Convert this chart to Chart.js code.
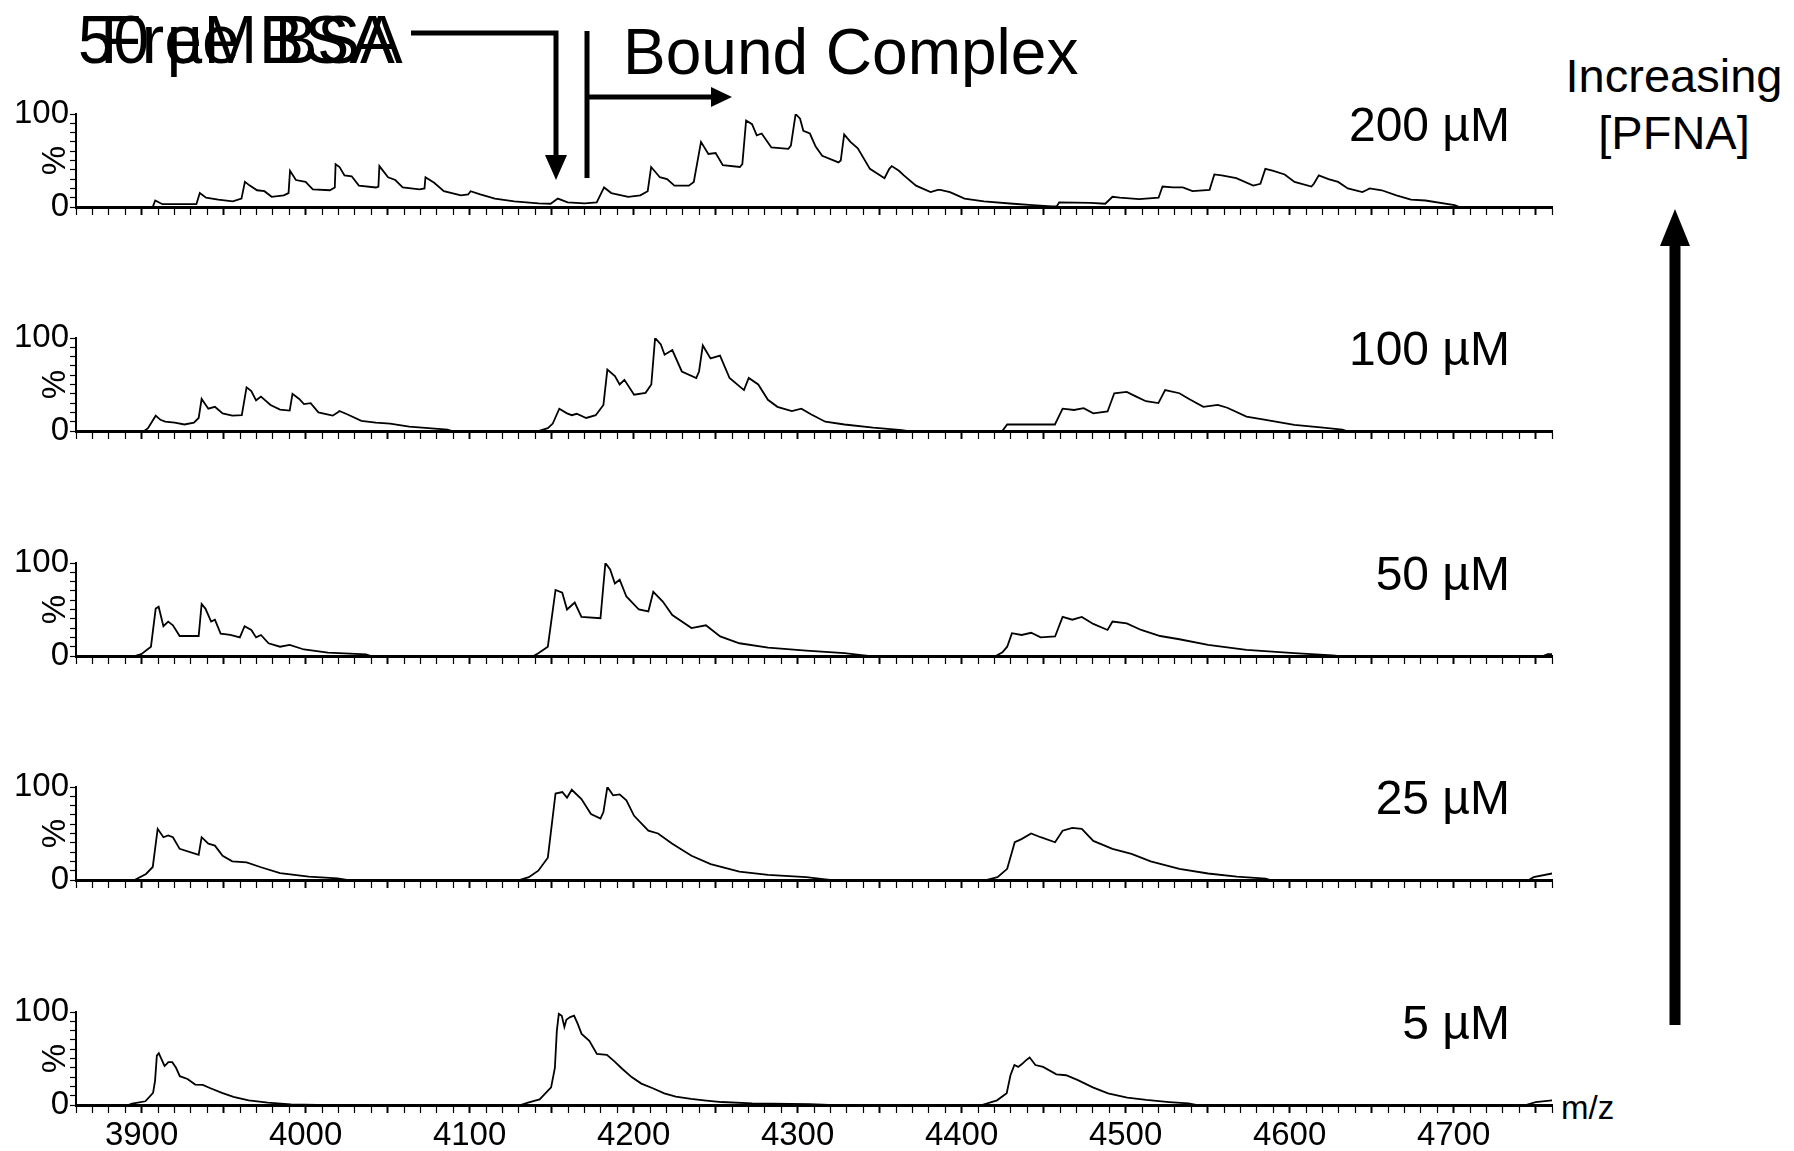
<!DOCTYPE html>
<html>
<head>
<meta charset="utf-8">
<script src="https://cdn.jsdelivr.net/npm/chart.js@4.4.1/dist/chart.umd.min.js"></script>
<style>
  body { margin: 0; background: #fff; width: 1794px; height: 1151px; position: relative; overflow: hidden;
         font-family: "Liberation Sans", Arial, sans-serif; color: #000; }
  canvas { position: absolute; left: 0; }
  .t { position: absolute; line-height: 1; white-space: nowrap; }
</style>
</head>
<body>

<div class="t" style="left:78px;top:5px;font-size:68px;transform:scaleX(0.94);transform-origin:0 0">50 µM BSA</div>
<div class="t" style="left:100px;top:5px;font-size:68px">Free BSA</div>
<div class="t" style="left:623px;top:20px;font-size:64px">Bound Complex</div>
<div class="t" style="left:1524px;top:52px;width:300px;text-align:center;font-size:47px">Increasing</div>
<div class="t" style="left:1524px;top:109px;width:300px;text-align:center;font-size:47px">[PFNA]</div>
<div class="t" style="left:1561px;top:1091px;font-size:33px">m/z</div>

<svg width="1794" height="1151" style="position:absolute;left:0;top:0">
  <g stroke="#000" stroke-width="5" fill="none">
    <polyline points="411,33 556,33 556,160"/>
    <line x1="587" y1="31" x2="587" y2="178"/>
    <line x1="587" y1="97" x2="713" y2="97"/>
    <line x1="1675" y1="1025" x2="1675" y2="240" stroke-width="11"/>
  </g>
  <g fill="#000">
    <polygon points="545,155 567,155 556,180"/>
    <polygon points="711,87 711,107 732,97"/>
    <polygon points="1660,246 1690,246 1675,209"/>
  </g>
</svg>

<script>
// [m/z, % intensity]
const spec200 = [[3860,0],[3906.8,0],[3908.3,7],[3912.7,3],[3933.4,3],[3935.5,15],[3939.3,10],[3946.7,8],[3955.6,6],[3960.9,9],[3963.0,27],[3966.0,23],[3970.4,18],[3974.9,17],[3979.3,11],[3986.7,12.5],[3989.6,15],[3990.5,39],[3994.1,29],[4000.0,27],[4004.4,19],[4014.8,18],[4017.8,21],[4018.3,46],[4020.7,43],[4023.7,34],[4028.1,33],[4032.5,23],[4042.9,21],[4044.4,22],[4045.0,44],[4050.3,32],[4054.7,29],[4059.2,21],[4069.5,19],[4072.5,20],[4073.1,32],[4078.4,26],[4084.3,17],[4094.7,12.5],[4099.1,13.5],[4100.6,17],[4106.5,13.5],[4115.4,9],[4127.2,6],[4142.0,4],[4149.4,3.5],[4153.8,9],[4159.8,5],[4170.1,4],[4177.5,5],[4182.0,21],[4186.4,15],[4196.7,11],[4204.1,12.5],[4208.6,17],[4210.7,43],[4216.0,32],[4220.4,30],[4224.9,23],[4233.7,23],[4236.7,27],[4241.1,70],[4245.6,57],[4250.0,58],[4254.4,45],[4264.8,43],[4266.3,46],[4268.6,93],[4272.2,89],[4275.1,77],[4278.1,79],[4284.0,64],[4294.4,62.5],[4295.9,66],[4298.8,100],[4301.5,95],[4303.5,82],[4307.5,79],[4311.0,65],[4315.0,55],[4324.9,48],[4326.3,50],[4328.4,78],[4332.2,70],[4336.7,63],[4344.1,41],[4353.0,31],[4355.9,41],[4357.4,44],[4361.8,39],[4364.8,34],[4372.2,23],[4381.1,16],[4385.5,18.5],[4387.0,18.5],[4392.9,16],[4401.8,9],[4413.6,6],[4431.4,3.5],[4443.2,2],[4455.0,0.7],[4458.0,0.7],[4459.5,5],[4478.7,4.5],[4487.6,3.5],[4492.0,11],[4496.4,10],[4508.3,8.5],[4520.1,10],[4522.5,22],[4529.0,21],[4534.9,21],[4540.8,17],[4551.2,18.5],[4554.1,35],[4558.6,34],[4567.5,31],[4577.8,23],[4582.2,25],[4585.2,41],[4589.6,39],[4597.0,35],[4603.0,27],[4613.3,22],[4614.8,25],[4617.8,34],[4623.7,30],[4629.6,27],[4635.5,20],[4644.4,16],[4647.3,18.5],[4648.8,20],[4656.2,18],[4665.1,12.5],[4674.0,8],[4682.8,7],[4700.6,2],[4703.6,0],[4760,0]];

const spec100 = [[3860,0],[3901.6,0],[3903.9,3],[3908.6,16.5],[3911.5,12],[3914.4,10],[3920.2,9],[3926.1,7],[3931.9,9],[3934.8,14],[3936.6,34.5],[3940.7,24],[3944.7,26],[3949.4,19],[3955.3,16.5],[3961.1,17],[3964.0,47],[3966.9,43],[3969.8,33],[3972.8,37],[3978.6,28],[3984.4,23],[3990.3,22],[3992.0,40],[3996.1,34.5],[3999.0,29],[4003.1,30],[4007.8,20],[4016.5,16.5],[4019.5,20],[4020.6,21.5],[4025.3,18],[4034.0,11],[4042.8,9],[4051.5,8],[4063.2,4.7],[4074.9,3],[4086.5,1.5],[4089.4,0],[4141.9,0],[4147.7,3],[4150.7,8],[4154.7,24],[4159.4,19],[4162.3,17],[4165.3,18.5],[4171.1,14],[4176.9,17],[4181.6,28],[4184.0,66],[4188.6,59],[4191.5,50],[4194.4,55],[4200.3,39],[4207.3,41],[4210.8,50],[4213.1,100],[4216.6,93],[4218.9,82],[4223.6,87],[4229.4,64],[4238.2,57],[4239.9,64],[4242.2,92],[4246.9,78],[4252.7,81],[4258.5,57],[4267.3,44],[4270.2,57],[4276.0,50],[4281.9,33.5],[4287.7,26],[4296.5,21.5],[4302.3,24],[4308.1,18],[4316.9,10],[4328.6,7],[4346.1,3.6],[4363.6,1],[4366.5,0],[4424.8,0],[4427.8,7],[4456.9,7],[4461.6,24],[4468.6,22.6],[4474.4,24.5],[4480.3,19],[4489.0,21],[4493.1,40.6],[4500.7,42],[4506.5,37],[4512.4,32],[4520.0,30],[4524.1,44],[4532.8,40.6],[4538.7,34.5],[4547.4,26],[4556.2,28],[4562.0,25],[4573.7,15.5],[4585.4,12],[4602.9,6.5],[4620.4,3.6],[4632.1,1.4],[4635.0,0],[4760,0]];

const spec50 = [[3860,0],[3895.7,0],[3899.8,2],[3905.7,10],[3908.6,51],[3910.4,53],[3913.3,32],[3916.2,37],[3919.1,33],[3923.2,21.5],[3934.8,21.5],[3936.6,56],[3938.9,51],[3942.4,37],[3944.7,39],[3948.2,24],[3954.1,22.6],[3959.9,20],[3962.8,32],[3966.9,28],[3969.8,20],[3972.8,22.6],[3977.4,13.7],[3984.4,10],[3990.3,12],[3999.0,7],[4013.6,3.6],[4036.9,1.8],[4039.8,0],[4139.0,0],[4141.9,3],[4147.7,10],[4152.4,71],[4156.5,68],[4159.4,50],[4164.1,57.5],[4168.2,42],[4179.8,40.6],[4182.8,100],[4185.7,93],[4188.6,78],[4191.5,82],[4195.6,64],[4203.2,50],[4209.0,48],[4212.0,69],[4217.8,58.6],[4223.6,44],[4235.3,30],[4244.1,33],[4252.8,21],[4264.5,13.7],[4282.0,9],[4305.3,5.8],[4328.6,3],[4340.3,0.7],[4343.2,0],[4420.8,0],[4424.9,4],[4427.8,10],[4430.7,24.5],[4436.6,22.6],[4442.4,25],[4448.2,20],[4457.0,21],[4461.6,42],[4467.5,39],[4473.3,42],[4480.3,34.5],[4489.0,28],[4492.0,37],[4500.7,35],[4509.5,28],[4521.1,21.5],[4532.8,18],[4550.3,12],[4573.7,6.5],[4602.9,3],[4626.2,0.7],[4629.1,0],[4754.5,0],[4757.4,2],[4760,2]];

const spec25 = [[3860,0],[3895.7,0],[3902.7,6.5],[3906.8,14],[3909.8,55],[3913.3,46],[3916.2,48],[3919.1,46],[3923.2,33.5],[3934.8,27],[3936.6,46],[3940.7,39],[3944.7,37],[3949.4,26],[3955.3,20],[3964.0,19],[3972.8,13.7],[3984.4,7.5],[4001.9,3.6],[4019.4,1.8],[4025.2,0],[4130.3,0],[4136.1,3],[4141.9,10],[4147.7,24],[4152.4,93],[4156.5,94.6],[4159.4,88.5],[4162.3,97],[4168.2,87],[4174.0,71],[4179.8,66],[4181.6,73],[4184.0,100],[4187.5,91],[4191.5,92],[4195.6,85.6],[4200.3,69],[4209.0,53],[4214.9,50],[4223.6,39],[4235.3,26],[4247.0,17],[4264.5,9],[4282.0,5.4],[4305.3,3],[4316.9,0.7],[4319.8,0],[4414.9,0],[4421.9,3],[4427.8,12],[4432.4,40.6],[4436.5,44],[4442.4,50],[4448.2,46],[4457.0,40.6],[4461.6,53],[4467.5,56],[4473.3,55],[4480.3,42],[4492.0,33.5],[4503.6,28],[4515.3,20],[4532.8,12],[4550.3,7],[4567.8,3.6],[4585.4,1.4],[4588.3,0],[4745.8,0],[4748.8,3],[4760,7]];

const spec5 = [[3860,0],[3891.8,0],[3894.2,1.5],[3902.3,4],[3907.0,13],[3908.2,26],[3909.3,53],[3910.5,55.6],[3911.7,51],[3914.0,42],[3915.2,44],[3916.3,46],[3918.7,46],[3921.0,40],[3923.3,31],[3928.0,28],[3932.7,22],[3937.3,21.7],[3942.0,18],[3949.0,13],[3956.0,8.7],[3965.3,5],[3977.0,2.5],[3991.0,0.7],[4007.3,0],[4131.0,0],[4135.6,2.5],[4142.7,6],[4149.7,19],[4152.0,40],[4153.2,80],[4154.4,98],[4156.2,96],[4157.8,84],[4159.0,91.7],[4161.3,94.6],[4163.7,96],[4166.0,87],[4168.3,76.5],[4173.0,69],[4177.6,55],[4183.7,54],[4188.3,47],[4193.0,39],[4198.8,30],[4204.7,23],[4211.7,18],[4218.7,12.6],[4225.7,9],[4235.0,6.5],[4244.3,4.7],[4253.7,3.2],[4272.3,1.8],[4307.3,1],[4319.0,0],[4412.3,0],[4421.6,5],[4427.5,12.6],[4429.8,32],[4432.2,43],[4434.5,41],[4436.8,44],[4439.2,48],[4441.5,51],[4445.0,43],[4449.7,41],[4457.8,33],[4463.7,32],[4470.6,27],[4480.0,19],[4489.3,12.6],[4501.0,8],[4512.6,5.4],[4526.6,3.2],[4538.3,1.8],[4543.0,0],[4744.0,0],[4750.0,3],[4760,5]];

const concLabels = ['200 µM', '100 µM', '50 µM', '25 µM', '5 µM'];
const spectra = [spec200, spec100, spec50, spec25, spec5];
const mzMin = 3860, mzMax = 4760;

// layout (px)
const baselines = [207, 431, 656, 880, 1105];
const plotH = 93, padTop = 24, xAxisH = 50, yAxisW = 76, plotRight = 1552;

Chart.defaults.font.family = '"Liberation Sans", Arial, sans-serif';
Chart.defaults.color = '#000';

spectra.forEach(function (spec, i) {
  var cv = document.createElement('canvas');
  cv.width = 1794;
  cv.height = padTop + plotH + xAxisH;
  cv.style.top = (baselines[i] - plotH - padTop) + 'px';
  document.body.appendChild(cv);

  var lab = document.createElement('div');
  lab.className = 't';
  lab.style.cssText = 'left:1300px;width:210px;text-align:right;font-size:48px;top:' + (baselines[i] - 65 - 41) + 'px';
  lab.textContent = concLabels[i];
  document.body.appendChild(lab);

  var last = i === spectra.length - 1;

  new Chart(cv, {
    type: 'line',
    data: {
      datasets: [{
        data: spec.map(function (p) { return { x: p[0], y: p[1] }; }),
        borderColor: '#000',
        borderWidth: 1.8,
        pointRadius: 0,
        tension: 0,
        fill: false
      }]
    },
    options: {
      responsive: false,
      animation: false,
      layout: { padding: { top: padTop, right: 1794 - plotRight, left: 0, bottom: 0 } },
      plugins: { legend: { display: false }, tooltip: { enabled: false } },
      scales: {
        x: {
          type: 'linear',
          min: mzMin,
          max: mzMax,
          afterFit: function (s) { s.height = xAxisH; },
          border: { display: true, color: '#000', width: 3 },
          grid: {
            drawOnChartArea: false,
            tickLength: 8,
            tickColor: '#000',
            tickWidth: function (c) { return c.tick && c.tick.value % 50 === 0 ? 2 : 1.2; }
          },
          ticks: {
            stepSize: 10,
            autoSkip: false,
            maxRotation: 0,
            padding: 3,
            font: { size: 33 },
            callback: function (v) { return (last && v % 100 === 0) ? String(v) : ''; }
          }
        },
        y: {
          min: 0,
          max: 100,
          afterFit: function (s) { s.width = yAxisW; },
          border: { display: true, color: '#000', width: 2 },
          grid: { drawOnChartArea: false, tickLength: 6, tickColor: '#000', tickWidth: 1.2 },
          ticks: {
            stepSize: 10,
            autoSkip: false,
            padding: 1,
            font: { size: 33 },
            callback: function (v) { return (v === 0 || v === 100) ? String(v) : ''; }
          },
          title: { display: true, text: '%', font: { size: 33 }, padding: { top: 36, bottom: 0 } }
        }
      }
    }
  });
});
</script>
</body>
</html>
